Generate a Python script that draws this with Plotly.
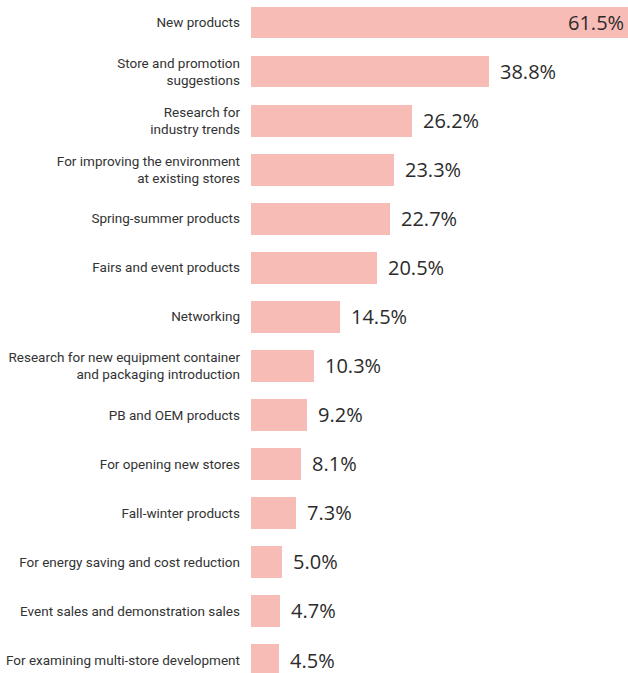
import plotly.graph_objects as go

categories = [
    "New products",
    "Store and promotion<br>suggestions",
    "Research for<br>industry trends",
    "For improving the environment<br>at existing stores",
    "Spring-summer products",
    "Fairs and event products",
    "Networking",
    "Research for new equipment container<br>and packaging introduction",
    "PB and OEM products",
    "For opening new stores",
    "Fall-winter products",
    "For energy saving and cost reduction",
    "Event sales and demonstration sales",
    "For examining multi-store development",
]
values = [61.5, 38.8, 26.2, 23.3, 22.7, 20.5, 14.5, 10.3, 9.2, 8.1, 7.3, 5.0, 4.7, 4.5]
value_labels = [f"{v:.1f}%" for v in values]

BAR_COLOR = "#f8bcb7"
LABEL_FONT = "Roboto, sans-serif"
VALUE_FONT = "Open Sans, Noto Sans, sans-serif"

fig = go.Figure(
    go.Bar(
        x=values,
        y=categories,
        orientation="h",
        marker=dict(color=BAR_COLOR, line=dict(width=0)),
        width=0.65,
        hoverinfo="skip",
    )
)

annotations = []
for i, (cat, v, lab) in enumerate(zip(categories, values, value_labels)):
    inside = i == 0
    annotations.append(
        dict(
            x=v,
            y=cat,
            xref="x",
            yref="y",
            text=lab,
            showarrow=False,
            xanchor="right" if inside else "left",
            xshift=-2 if inside else 9,
            font=dict(family=VALUE_FONT, size=20, color="#2b2b2b"),
        )
    )

fig.update_layout(
    width=628,
    height=673,
    margin=dict(l=251, r=0, t=0, b=0, autoexpand=False),
    paper_bgcolor="white",
    plot_bgcolor="white",
    showlegend=False,
    annotations=annotations,
    bargap=0,
)
fig.update_xaxes(
    range=[0, 61.5],
    visible=False,
    fixedrange=True,
)
fig.update_yaxes(
    type="category",
    categoryorder="array",
    categoryarray=categories,
    range=[13.265, -0.459],
    showgrid=False,
    showline=False,
    zeroline=False,
    ticks="",
    automargin=False,
    ticklabelstandoff=10,
    tickfont=dict(family=LABEL_FONT, size=13.5, color="#333333"),
    fixedrange=True,
)

fig.write_html(
    "out.html",
    config={"displayModeBar": False, "staticPlot": True},
    post_script="document.body.style.margin='0';document.body.style.overflow='hidden';",
)
